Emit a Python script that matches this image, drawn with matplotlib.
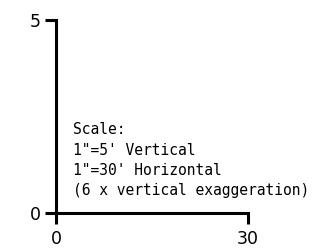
import matplotlib
matplotlib.use("Agg")
import matplotlib.pyplot as plt

# axis ranges and ticks
x_ticks = [0, 30]
y_ticks = [0, 5]
note_lines = ["Scale:",
              "1\"=5' Vertical",
              "1\"=30' Horizontal",
              "(6 x vertical exaggeration)"]

fig = plt.figure(figsize=(3.34, 2.48), dpi=100)
ax = fig.add_axes([56/334, 35/248, 192/334, 193/248])

ax.set_xlim(x_ticks[0], x_ticks[-1])
ax.set_ylim(y_ticks[0], y_ticks[-1])
ax.set_xticks(x_ticks)
ax.set_yticks(y_ticks)

for s in ["top", "right"]:
    ax.spines[s].set_visible(False)
for s in ["left", "bottom"]:
    ax.spines[s].set_linewidth(2.2)
    ax.spines[s].set_capstyle("projecting")

ax.tick_params(axis="both", direction="out", length=8, width=2.2, labelsize=12.5)
ax.tick_params(axis="y", pad=3)
ax.tick_params(axis="x", pad=4)

ax.text(0.089, 0.47, "\n".join(note_lines), transform=ax.transAxes,
        ha="left", va="top", fontsize=10.5, family="DejaVu Sans Mono",
        linespacing=1.45)

fig.savefig("out.png", dpi=100)
